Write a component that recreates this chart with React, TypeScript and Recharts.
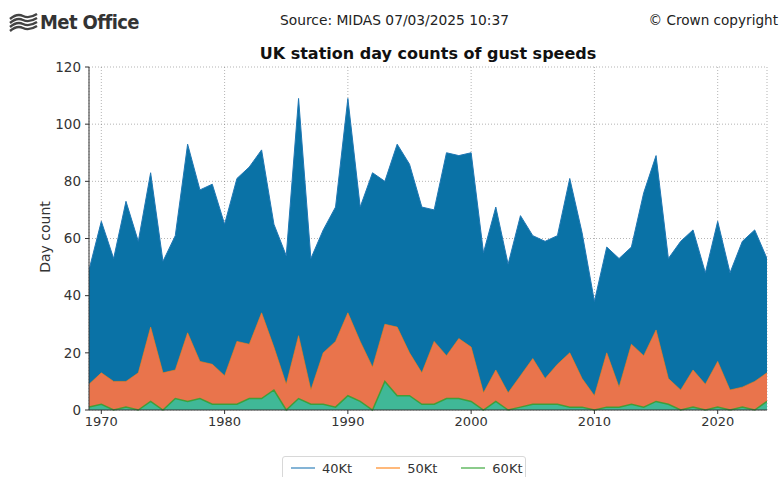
import React from 'react';
import {
  ComposedChart,
  Area,
  XAxis,
  YAxis,
  CartesianGrid,
  Legend,
} from 'recharts';

const years = [
  1969, 1970, 1971, 1972, 1973, 1974, 1975, 1976, 1977, 1978, 1979,
  1980, 1981, 1982, 1983, 1984, 1985, 1986, 1987, 1988, 1989,
  1990, 1991, 1992, 1993, 1994, 1995, 1996, 1997, 1998, 1999,
  2000, 2001, 2002, 2003, 2004, 2005, 2006, 2007, 2008, 2009,
  2010, 2011, 2012, 2013, 2014, 2015, 2016, 2017, 2018, 2019,
  2020, 2021, 2022, 2023, 2024,
];

const kt40 = [
  49, 66, 53, 73, 59, 83, 52, 61, 93, 77, 79,
  65, 81, 85, 91, 65, 54, 109, 53, 63, 71,
  109, 71, 83, 80, 93, 86, 71, 70, 90, 89,
  90, 55, 71, 51, 68, 61, 59, 61, 81, 62,
  38, 57, 53, 57, 76, 89, 53, 59, 63, 48,
  66, 48, 59, 63, 53,
];

const kt50 = [
  9, 13, 10, 10, 13, 29, 13, 14, 27, 17, 16,
  12, 24, 23, 34, 22, 9, 26, 7, 20, 24,
  34, 24, 15, 30, 29, 20, 13, 24, 19, 25,
  22, 6, 14, 6, 12, 18, 11, 16, 20, 11,
  5, 20, 8, 23, 19, 28, 11, 7, 14, 9,
  17, 7, 8, 10, 13,
];

const kt60 = [
  1, 2, 0, 1, 0, 3, 0, 4, 3, 4, 2,
  2, 2, 4, 4, 7, 0, 4, 2, 2, 1,
  5, 3, 0, 10, 5, 5, 2, 2, 4, 4,
  3, 0, 3, 0, 1, 2, 2, 2, 1, 1,
  0, 1, 1, 2, 1, 3, 2, 0, 1, 0,
  1, 0, 1, 0, 3,
];

const xTicks = [1970, 1980, 1990, 2000, 2010, 2020];
const yTicks = [0, 20, 40, 60, 80, 100, 120];

const seriesNames = ['40Kt', '50Kt', '60Kt'];
const lineColors = ['#1f77b4', '#ff7f0e', '#2ca02c'];
const fillColors = ['#0a72a6', '#e9744c', '#40b897'];

const data = years.map((y, i) => ({
  year: y,
  kt40: kt40[i],
  kt50: kt50[i],
  kt60: kt60[i],
}));

const FONT = "'DejaVu Sans', sans-serif";

const YLabel = () => (
  <text
    x={45}
    y={237}
    transform="rotate(-90 45 237)"
    textAnchor="middle"
    dominantBaseline="central"
    fontFamily={FONT}
    fontSize={14}
    fill="#333"
  >
    Day count
  </text>
);

const LegendContent = () => (
  <div
    style={{
      boxSizing: 'border-box',
      width: 244,
      height: 24,
      border: '1px solid #d8d8d8',
      borderRadius: 3,
      display: 'flex',
      alignItems: 'center',
      fontFamily: FONT,
      fontSize: 13,
      color: '#333',
      background: '#fff',
    }}
  >
    {seriesNames.map((n, i) => (
      <div key={n} style={{ display: 'flex', alignItems: 'center', marginLeft: i === 0 ? 8 : 24 }}>
        <svg width={24} height={4} style={{ marginRight: 7 }}>
          <line x1={0} y1={2} x2={24} y2={2} stroke={lineColors[i]} strokeOpacity={0.55} strokeWidth={2} />
        </svg>
        <span>{n}</span>
      </div>
    ))}
  </div>
);

const MetLogo = () => (
  <svg width={30} height={20} style={{ position: 'absolute', left: 9, top: 13 }}>
    {[3, 7, 11, 15].map((y) => (
      <path
        key={y}
        d={`M1 ${y + 3} Q 8 ${y - 3} 14 ${y} T 28 ${y - 2}`}
        stroke="#444"
        strokeWidth={2.4}
        fill="none"
      />
    ))}
  </svg>
);

export default function App() {
  return (
    <div
      style={{
        position: 'absolute',
        left: 0,
        top: 0,
        width: 780,
        height: 477,
        background: '#fff',
        overflow: 'hidden',
        fontFamily: FONT,
      }}
    >
      <MetLogo />
      <div
        style={{
          position: 'absolute',
          left: 40,
          top: 10,
          fontFamily: "'DejaVu Sans Condensed', 'Liberation Sans Narrow', sans-serif",
          fontWeight: 600,
          fontSize: 20,
          color: '#333',
          letterSpacing: -0.6,
          whiteSpace: 'nowrap',
        }}
      >
        Met Office
      </div>
      <div
        style={{
          position: 'absolute',
          left: 280,
          top: 12,
          fontSize: 13.8,
          color: '#222',
          whiteSpace: 'nowrap',
        }}
      >
        Source: MIDAS 07/03/2025 10:37
      </div>
      <div
        style={{
          position: 'absolute',
          right: 2,
          top: 12,
          fontSize: 13.6,
          color: '#222',
          whiteSpace: 'nowrap',
        }}
      >
        © Crown copyright
      </div>
      <div
        style={{
          position: 'absolute',
          left: 89,
          width: 678,
          top: 44,
          textAlign: 'center',
          fontSize: 16,
          fontWeight: 'bold',
          color: '#111',
          whiteSpace: 'nowrap',
        }}
      >
        UK station day counts of gust speeds
      </div>
      <div style={{ position: 'absolute', left: 0, top: 0 }}>
        <ComposedChart
          width={780}
          height={477}
          data={data}
          margin={{ top: 67, right: 13, bottom: 37, left: 0 }}
        >
          <XAxis
            dataKey="year"
            type="number"
            domain={[1969, 2024]}
            ticks={xTicks}
            allowDataOverflow
            height={30}
            tickSize={4}
            tickMargin={3}
            tick={{ fill: '#333', fontSize: 13, fontFamily: FONT }}
            stroke="#333"
          />
          <XAxis
            xAxisId="top"
            orientation="top"
            dataKey="year"
            type="number"
            domain={[1969, 2024]}
            height={0}
            tick={false}
            tickLine={false}
            stroke="#666"
          />
          <YAxis
            type="number"
            domain={[0, 120]}
            ticks={yTicks}
            width={89}
            tickSize={4}
            tickMargin={4}
            tick={{ fill: '#333', fontSize: 13.5, fontFamily: FONT }}
            stroke="#333"
            label={<YLabel />}
          />
          <YAxis
            yAxisId="right"
            orientation="right"
            domain={[0, 120]}
            width={0}
            tick={false}
            tickLine={false}
            stroke="#666"
          />
          <Area
            type="linear"
            dataKey="kt40"
            name={seriesNames[0]}
            fill={fillColors[0]}
            fillOpacity={1}
            stroke={lineColors[0]}
            strokeWidth={1}
            isAnimationActive={false}
            dot={false}
            activeDot={false}
          />
          <Area
            type="linear"
            dataKey="kt50"
            name={seriesNames[1]}
            fill={fillColors[1]}
            fillOpacity={1}
            stroke={lineColors[1]}
            strokeOpacity={0.6}
            strokeWidth={1}
            isAnimationActive={false}
            dot={false}
            activeDot={false}
          />
          <Area
            type="linear"
            dataKey="kt60"
            name={seriesNames[2]}
            fill={fillColors[2]}
            fillOpacity={1}
            stroke={lineColors[2]}
            strokeOpacity={0.8}
            strokeWidth={1.5}
            isAnimationActive={false}
            dot={false}
            activeDot={false}
          />
          <CartesianGrid
            stroke="#444"
            strokeOpacity={0.4}
            strokeDasharray="1 2"
          />
          <Legend
            layout="vertical"
            align="center"
            verticalAlign="middle"
            content={<LegendContent />}
            wrapperStyle={{ position: 'absolute', left: 282, top: 456, width: 244, height: 24 }}
          />
        </ComposedChart>
      </div>
    </div>
  );
}
